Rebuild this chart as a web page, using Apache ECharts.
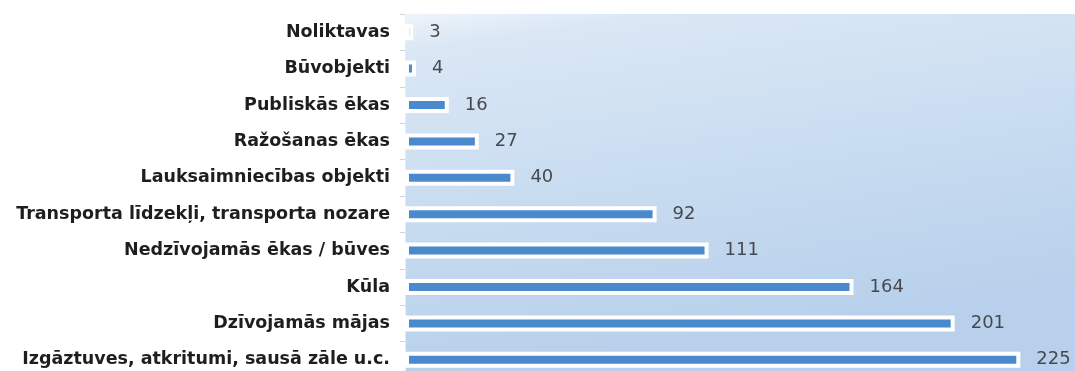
<!DOCTYPE html>
<html>
<head>
<meta charset="utf-8">
<script src="https://cdn.jsdelivr.net/npm/echarts@6/dist/echarts.min.js"></script>
<style>
  html, body { margin: 0; padding: 0; background: #ffffff; }
  #chart { width: 1075px; height: 371px; }
</style>
</head>
<body>
<div id="chart"></div>
<script>
// Fire counts by object type (top of list = smallest)
const categories = [
  'Izgāztuves, atkritumi, sausā zāle u.c.',
  'Dzīvojamās mājas',
  'Kūla',
  'Nedzīvojamās ēkas / būves',
  'Transporta līdzekļi, transporta nozare',
  'Lauksaimniecības objekti',
  'Ražošanas ēkas',
  'Publiskās ēkas',
  'Būvobjekti',
  'Noliktavas'
];
const counts = [225, 201, 164, 111, 92, 40, 27, 16, 4, 3];

const chart = echarts.init(document.getElementById('chart'), null, { renderer: 'canvas' });

chart.setOption({
  animation: false,
  backgroundColor: '#ffffff',
  grid: {
    left: 405,
    right: 0,
    top: 14,
    height: 364,
    outerBoundsMode: 'none',
    containLabel: false,
    show: true,
    borderWidth: 0,
    backgroundColor: {
      type: 'linear', x: 0, y: 0, x2: 0.08, y2: 1,
      colorStops: [
        { offset: 0, color: '#eef4fb' },
        { offset: 0.1, color: '#dae7f5' },
        { offset: 0.55, color: '#c8dcf0' },
        { offset: 1, color: '#b8d0eb' }
      ]
    }
  },
  xAxis: {
    type: 'value',
    min: 0,
    max: 245,
    show: false
  },
  yAxis: {
    type: 'category',
    data: categories,
    axisLine: { show: true, lineStyle: { color: '#e8ecf1', width: 1 } },
    axisTick: { show: true, length: 5, lineStyle: { color: '#d0d4da' } },
    axisLabel: {
      margin: 15,
      color: '#1e1e1e',
      fontFamily: 'DejaVu Sans',
      fontWeight: 'bold',
      fontSize: 17.5
    }
  },
  series: [{
    type: 'bar',
    data: counts,
    barWidth: 16,
    itemStyle: {
      color: '#4a89cb',
      borderColor: '#ffffff',
      borderWidth: 4
    },
    label: {
      show: true,
      position: 'right',
      distance: 16,
      color: '#464a50',
      fontFamily: 'DejaVu Sans',
      fontSize: 18
    }
  }]
});
</script>
</body>
</html>
